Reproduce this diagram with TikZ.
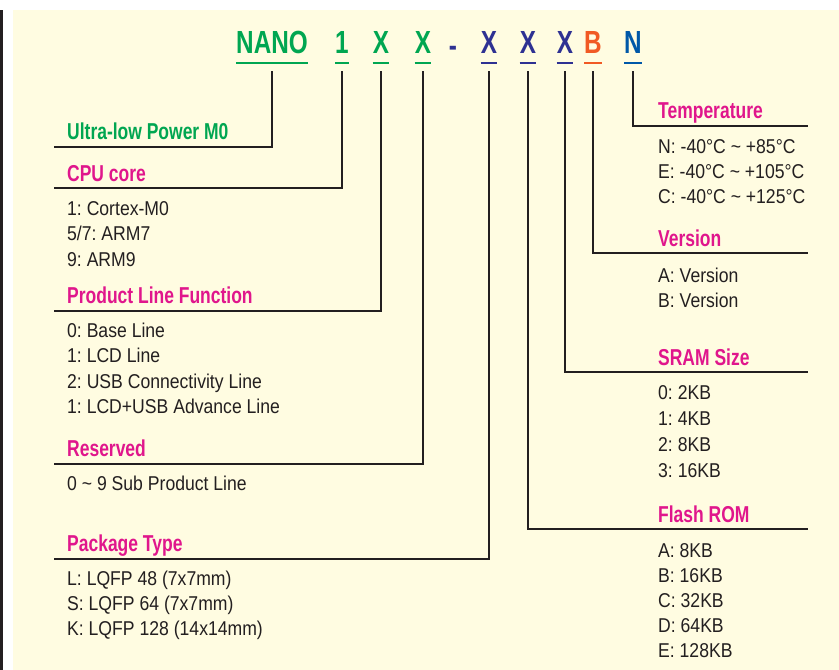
\documentclass[tikz,border=0pt]{standalone}
\usepackage{fontspec}
\setmainfont[FakeStretch=0.88]{Liberation Sans}
\newfontfamily\partfont[FakeStretch=0.76]{Liberation Sans}
\usepackage{tikz}
\usetikzlibrary{positioning}
\frenchspacing
\definecolor{NanoGreen}{HTML}{00A651}
\definecolor{NanoPink}{HTML}{E0168C}
\definecolor{NanoIndigo}{HTML}{2E3192}
\definecolor{NanoOrange}{HTML}{F15A24}
\definecolor{NanoBlue}{HTML}{0058A8}
\definecolor{NanoInk}{HTML}{231F20}
\definecolor{NanoCream}{HTML}{FFFCE1}
\tikzset{
  codechar/.style={font=\partfont\bfseries\fontsize{32}{32}\selectfont, inner sep=0pt, anchor=base},
  heading/.style={font=\partfont\bfseries\fontsize{23}{23}\selectfont, text=NanoPink,
    inner sep=0pt, anchor=base west},
  entry/.style={font=\fontsize{20}{20}\selectfont, text=NanoInk, inner sep=0pt, anchor=base west},
  wire/.style={draw=NanoInk, line width=2.6pt},
  underline/.style={line width=2.6pt}
}

\begin{document}
\begin{tikzpicture}[x=1pt, y=-1pt]
  \useasboundingbox (0,0) rectangle (839,670);
  \fill[NanoCream] (13,10) rectangle (839,670);
  \draw[NanoInk, line width=2.6pt] (1.5,10) -- (1.5,670);

  \node[codechar, text=NanoGreen] (nano) at (272,53) {NANO};
  \node[codechar, text=NanoGreen] (core) at (342,53) {1};
  \node[codechar, text=NanoGreen] (func) at (381,53) {X};
  \node[codechar, text=NanoGreen] (sub) at (423,53) {X};
  \node[codechar, text=NanoIndigo] (dash) at (453,56) {-};
  \node[codechar, text=NanoIndigo] (pkg) at (489,53) {X};
  \node[codechar, text=NanoIndigo] (flash) at (528,53) {X};
  \node[codechar, text=NanoIndigo] (sram) at (565,53) {X};
  \node[codechar, text=NanoOrange] (ver) at (593,53) {B};
  \node[codechar, text=NanoBlue] (temp) at (633,53) {N};
  \foreach \n/\c in {nano/NanoGreen, core/NanoGreen, func/NanoGreen, sub/NanoGreen,
      pkg/NanoIndigo, flash/NanoIndigo, sram/NanoIndigo, ver/NanoOrange, temp/NanoBlue}
    \draw[underline, \c] ([yshift=-10pt]\n.base west) -- ([yshift=-10pt]\n.base east);

  \coordinate (nanoend) at (54,147);
  \coordinate (coreend) at (54,188);
  \coordinate (funcend) at (54,311);
  \coordinate (subend) at (54,464);
  \coordinate (pkgend) at (54,559);
  \coordinate (tempend) at (808,126);
  \coordinate (verend) at (808,253);
  \coordinate (sramend) at (808,372);
  \coordinate (flashend) at (808,529);

  \node[heading, text=NanoGreen] (nanohead) at (67,139) {Ultra-low Power M0};
  \node[heading] (corehead) at (67,181) {CPU core};
  \node[heading] (funchead) at (67,303) {Product Line Function};
  \node[heading] (subhead) at (67,456) {Reserved};
  \node[heading] (pkghead) at (67,551) {Package Type};
  \node[heading] (temphead) at (658,118) {Temperature};
  \node[heading] (verhead) at (658,246) {Version};
  \node[heading] (sramhead) at (658,365) {SRAM Size};
  \node[heading] (flashhead) at (658,522) {Flash ROM};

  \foreach \t [count=\k] in {1: Cortex-M0, 5/7: ARM7, 9: ARM9}
    \node[entry] (corei\k) at (67,{215+25.8*(\k-1)}) {\t};
  \foreach \t [count=\k] in {0: Base Line, 1: LCD Line, 2: USB Connectivity Line, 1: LCD+USB Advance Line}
    \node[entry] (funci\k) at (67,{337+25.5*(\k-1)}) {\t};
  \node[entry] (subi1) at (67,490) {0 \textasciitilde{} 9 Sub Product Line};
  \foreach \t [count=\k] in {L: LQFP 48 (7x7mm), S: LQFP 64 (7x7mm), K: LQFP 128 (14x14mm)}
    \node[entry] (pkgi\k) at (67,{585+25*(\k-1)}) {\t};
  \foreach \t [count=\k] in {N: -40°C \textasciitilde{} +85°C, E: -40°C \textasciitilde{} +105°C,
      C: -40°C \textasciitilde{} +125°C}
    \node[entry] (tempi\k) at (658,{153+25*(\k-1)}) {\t};
  \foreach \t [count=\k] in {A: Version, B: Version}
    \node[entry] (veri\k) at (658,{282+25*(\k-1)}) {\t};
  \foreach \t [count=\k] in {0: 2KB, 1: 4KB, 2: 8KB, 3: 16KB}
    \node[entry] (srami\k) at (658,{399+26*(\k-1)}) {\t};
  \foreach \t [count=\k] in {A: 8KB, B: 16KB, C: 32KB, D: 64KB, E: 128KB}
    \node[entry] (flashi\k) at (658,{557+25*(\k-1)}) {\t};

  \foreach \n in {nano, core, func, sub, pkg, temp, ver, sram, flash}
    \draw[wire] ([yshift=-18pt]\n.base) |- (\n end);
\end{tikzpicture}
\end{document}
